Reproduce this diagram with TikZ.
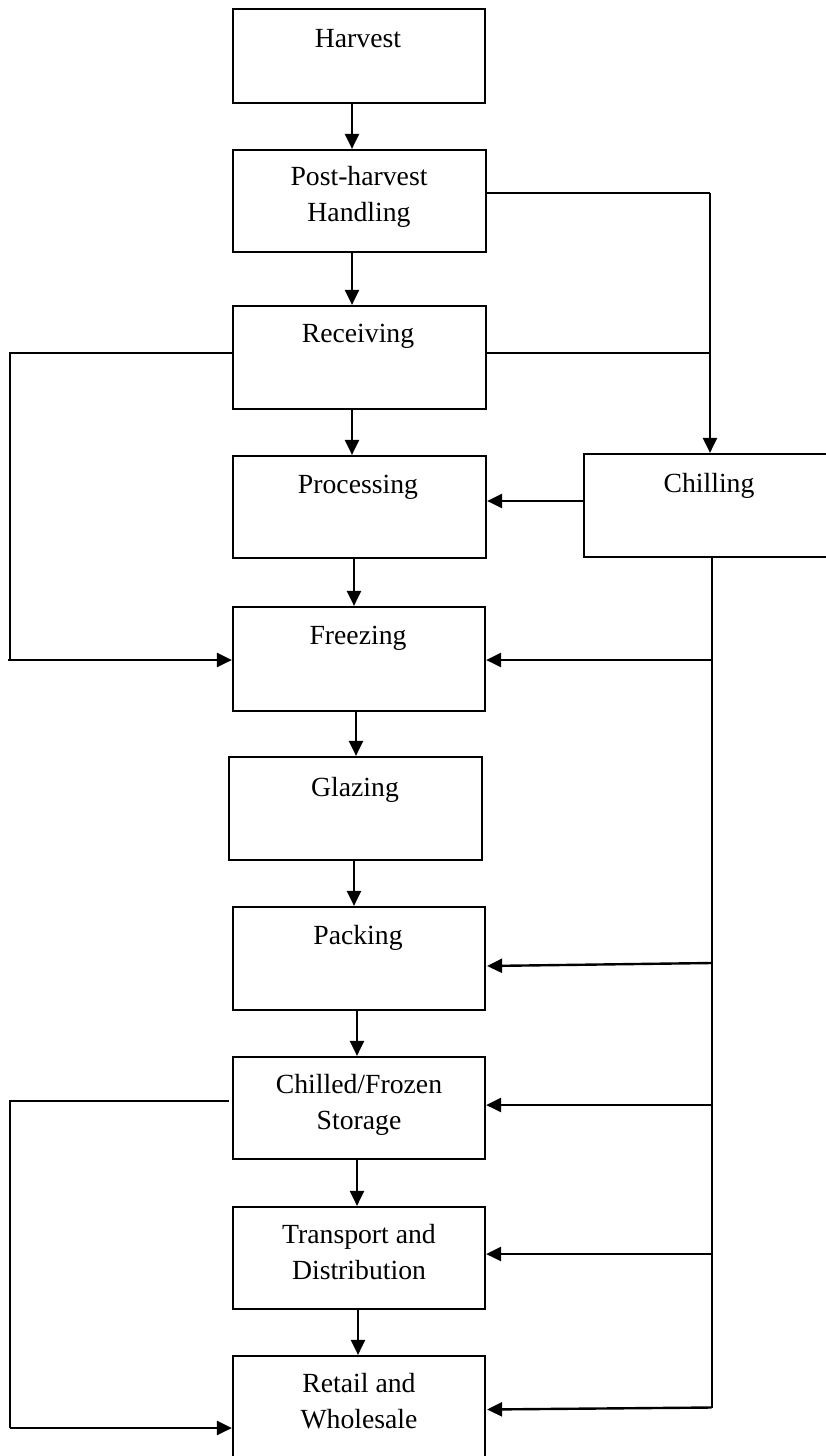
\documentclass[tikz,border=0pt]{standalone}
\usepackage{fontspec}
\setmainfont{Liberation Serif}
\usetikzlibrary{arrows.meta,calc}
\tikzset{
  box/.style={draw, line width=2.2pt, rectangle, inner sep=0pt},
  lbl/.style={anchor=base, inner sep=0pt, font=\fontsize{27.7}{36.5}\selectfont},
  arr/.style={line width=2.4pt, -{Triangle[length=15pt,width=14pt]}},
  thinln/.style={line width=1.3pt},
}
\newcommand{\twoln}[2]{\begin{tabular}[t]{@{}c@{}}#1\\#2\end{tabular}}
\begin{document}
\begin{tikzpicture}[x=1pt,y=-1pt]
\useasboundingbox (0,0) rectangle (826,1456);
% boxes
\node[box, minimum width=252pt, minimum height=94pt]  (harvest)    at (359,56)    {};
\node[box, minimum width=253pt, minimum height=102pt] (post)       at (359.5,201) {};
\node[box, minimum width=253pt, minimum height=103pt] (receiving)  at (359.5,357.5) {};
\node[box, minimum width=253pt, minimum height=102pt] (processing) at (359.5,507) {};
\node[box, minimum width=252pt, minimum height=104pt] (freezing)   at (359,659)   {};
\node[box, minimum width=253pt, minimum height=103pt] (glazing)    at (355.5,808.5) {};
\node[box, minimum width=252pt, minimum height=103pt] (packing)    at (359,958.5) {};
\node[box, minimum width=252pt, minimum height=102pt] (storage)    at (359,1108)  {};
\node[box, minimum width=252pt, minimum height=102pt] (transport)  at (359,1258)  {};
\node[box, minimum width=252pt, minimum height=104pt] (retail)     at (359,1408)  {};
\node[box, minimum width=246pt, minimum height=103pt] (chilling)   at (707,505.5) {};
% labels
\node[lbl] (harvest-t)    at (358,47)   {Harvest};
\node[lbl] (post-t)       at (359,185)  {\twoln{Post-harvest}{Handling}};
\node[lbl] (receiving-t)  at (358,342)  {Receiving};
\node[lbl] (processing-t) at (358,493)  {Processing};
\node[lbl] (freezing-t)   at (358,644)  {Freezing};
\node[lbl] (glazing-t)    at (355,796)  {Glazing};
\node[lbl] (packing-t)    at (358,944)  {Packing};
\node[lbl] (storage-t)    at (359,1093) {\twoln{Chilled/Frozen}{Storage}};
\node[lbl] (transport-t)  at (359,1243) {\twoln{Transport and}{Distribution}};
\node[lbl] (retail-t)     at (359,1392) {\twoln{Retail and}{Wholesale}};
\node[lbl] (chilling-t)   at (709,492)  {Chilling};
% main chain
\draw[arr] ([xshift=-7pt]harvest.south)    -- ([xshift=-7.5pt]post.north);
\draw[arr] ([xshift=-7.5pt]post.south)     -- ([xshift=-7.5pt]receiving.north);
\draw[arr] ([xshift=-7.5pt]receiving.south) -- ([xshift=-7.5pt]processing.north);
\draw[arr] ([xshift=-5.5pt]processing.south) -- ([xshift=-5pt]freezing.north);
\draw[arr] ([xshift=-3pt]freezing.south)   -- ([xshift=0.5pt]glazing.north);
\draw[arr] ([xshift=-1.5pt]glazing.south)  -- ([xshift=-5pt]packing.north);
\draw[arr] ([xshift=-2pt]packing.south)    -- ([xshift=-2pt]storage.north);
\draw[arr] ([xshift=-2pt]storage.south)    -- ([xshift=-2pt]transport.north);
\draw[arr] ([xshift=-1pt]transport.south)  -- ([xshift=-1pt]retail.north);
% right side
\coordinate (pr) at (710,193);
\draw[thinln] (post.east |- pr) -- (pr);
\draw[arr] (pr) -- (chilling.north -| pr);
\coordinate (rr) at (709,353);
\draw[thinln] (receiving.east |- rr) -- (rr);
\coordinate (cw) at (584,501);
\draw[arr] (chilling.west |- cw) -- (processing.east |- cw);
\coordinate (vb) at (712,1408);
\draw[thinln] (chilling.south -| vb) -- (vb);
\coordinate (b1) at (711.5,660);
\coordinate (b2) at (711.5,963);
\coordinate (b3) at (711.5,1105);
\coordinate (b4) at (711.5,1254);
\coordinate (b5) at (711.5,1407.5);
\coordinate (p2) at ($(packing.east |- b2)+(1,3)$);
\coordinate (p5) at ($(retail.east |- b5)+(1,2)$);
\draw[arr] (b1) -- (freezing.east |- b1);
\draw[arr] (b2) -- (p2);
\draw[arr] (b3) -- (storage.east |- b3);
\draw[arr] (b4) -- (transport.east |- b4);
\draw[arr] (b5) -- (p5);
% left side
\coordinate (l1) at (10,353);
\coordinate (l2) at (10,660);
\draw[thinln] (receiving.west |- l1) -- (l1) -- (l2);
\draw[arr] ([xshift=-2pt]l2) -- (freezing.west |- l2);
\coordinate (l3) at (10,1101);
\coordinate (l4) at (10,1428);
\draw[thinln] ([xshift=-3pt]storage.west |- l3) -- (l3) -- (l4);
\draw[arr] (l4) -- (retail.west |- l4);
\end{tikzpicture}
\end{document}
